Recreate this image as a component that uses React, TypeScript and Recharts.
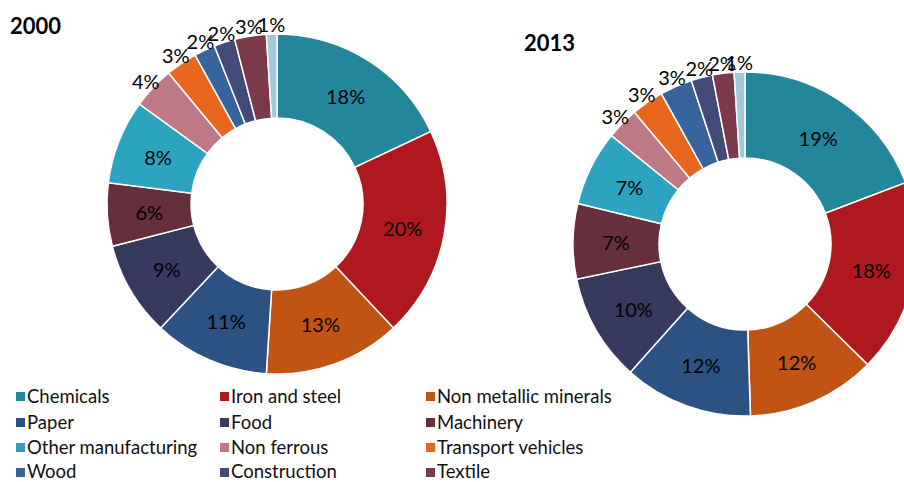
import React from 'react';
import { PieChart, Pie, Cell } from 'recharts';

const SECTORS = [
  'Chemicals',
  'Iron and steel',
  'Non metallic minerals',
  'Paper',
  'Food',
  'Machinery',
  'Other manufacturing',
  'Non ferrous',
  'Transport vehicles',
  'Wood',
  'Construction',
  'Textile',
  'Non specified',
];

const VALUES_2000 = [18, 20, 13, 11, 9, 6, 8, 4, 3, 2, 2, 3, 1];
const VALUES_2013 = [19, 18, 12, 12, 10, 7, 7, 3, 3, 3, 2, 2, 1];

const COLORS = [
  '#23869b',
  '#b0181f',
  '#c15412',
  '#2c5283',
  '#38395f',
  '#652f3c',
  '#2ca3bf',
  '#bf7986',
  '#e9661e',
  '#37649c',
  '#434a78',
  '#7b3a4a',
  '#a3c8da',
];

// only the first 12 sectors appear in the legend
const LEGEND_SECTORS = SECTORS.slice(0, 12);

const data2000 = SECTORS.map((name, i) => ({ name, value: VALUES_2000[i] }));
const data2013 = SECTORS.map((name, i) => ({ name, value: VALUES_2013[i] }));

const RAD = Math.PI / 180;
const FONT = 'Lato, "Open Sans", sans-serif';

const renderLabel = (p: any) => {
  const { cx, cy, midAngle, innerRadius, outerRadius, value } = p;
  const outside = value < 5;
  const r = outside ? outerRadius + 10 : (innerRadius + outerRadius) / 2;
  const x = cx + r * Math.cos(-midAngle * RAD);
  const y = cy + r * Math.sin(-midAngle * RAD);
  return (
    <text
      x={x}
      y={y}
      textAnchor="middle"
      dominantBaseline="central"
      fill="#000"
      fontSize={20}
      fontFamily={FONT}
    >
      {value}%
    </text>
  );
};

const COL_X = [16, 220, 426];
const ROW_Y = [396, 422, 447, 471.5];

export default function App() {
  return (
    <div style={{ position: 'absolute', left: 0, top: 0, width: 904, height: 482, background: '#fff', overflow: 'hidden' }}>
      <PieChart width={904} height={482} margin={{ top: 0, right: 0, bottom: 0, left: 0 }}>
        <Pie
          data={data2000}
          dataKey="value"
          cx={277}
          cy={204}
          innerRadius={86}
          outerRadius={170}
          startAngle={90}
          endAngle={-270}
          stroke="#fff"
          strokeWidth={1.5}
          label={renderLabel}
          labelLine={false}
          isAnimationActive={false}
        >
          {data2000.map((d, i) => (
            <Cell key={d.name} fill={COLORS[i]} />
          ))}
        </Pie>
        <Pie
          data={data2013}
          dataKey="value"
          cx={745}
          cy={244}
          innerRadius={86}
          outerRadius={172}
          startAngle={90}
          endAngle={-270}
          stroke="#fff"
          strokeWidth={1.5}
          label={renderLabel}
          labelLine={false}
          isAnimationActive={false}
        >
          {data2013.map((d, i) => (
            <Cell key={d.name} fill={COLORS[i]} />
          ))}
        </Pie>
      </PieChart>

      <div style={{ position: 'absolute', left: 10, top: 15, fontFamily: FONT, fontWeight: 700, fontSize: 22, lineHeight: '22px', color: '#000' }}>
        2000
      </div>
      <div style={{ position: 'absolute', left: 524, top: 32, fontFamily: FONT, fontWeight: 700, fontSize: 22, lineHeight: '22px', color: '#000' }}>
        2013
      </div>

      {LEGEND_SECTORS.map((name, i) => {
        const x = COL_X[i % 3];
        const y = ROW_Y[Math.floor(i / 3)];
        return (
          <div key={name}>
            <div style={{ position: 'absolute', left: x, top: y - 4, width: 9, height: 9, background: COLORS[i] }} />
            <div
              style={{
                position: 'absolute',
                left: x + 11,
                top: y - 8.5,
                fontFamily: FONT,
                fontSize: 18.5,
                lineHeight: '16px',
                color: '#111',
                whiteSpace: 'nowrap',
              }}
            >
              {name}
            </div>
          </div>
        );
      })}
    </div>
  );
}
